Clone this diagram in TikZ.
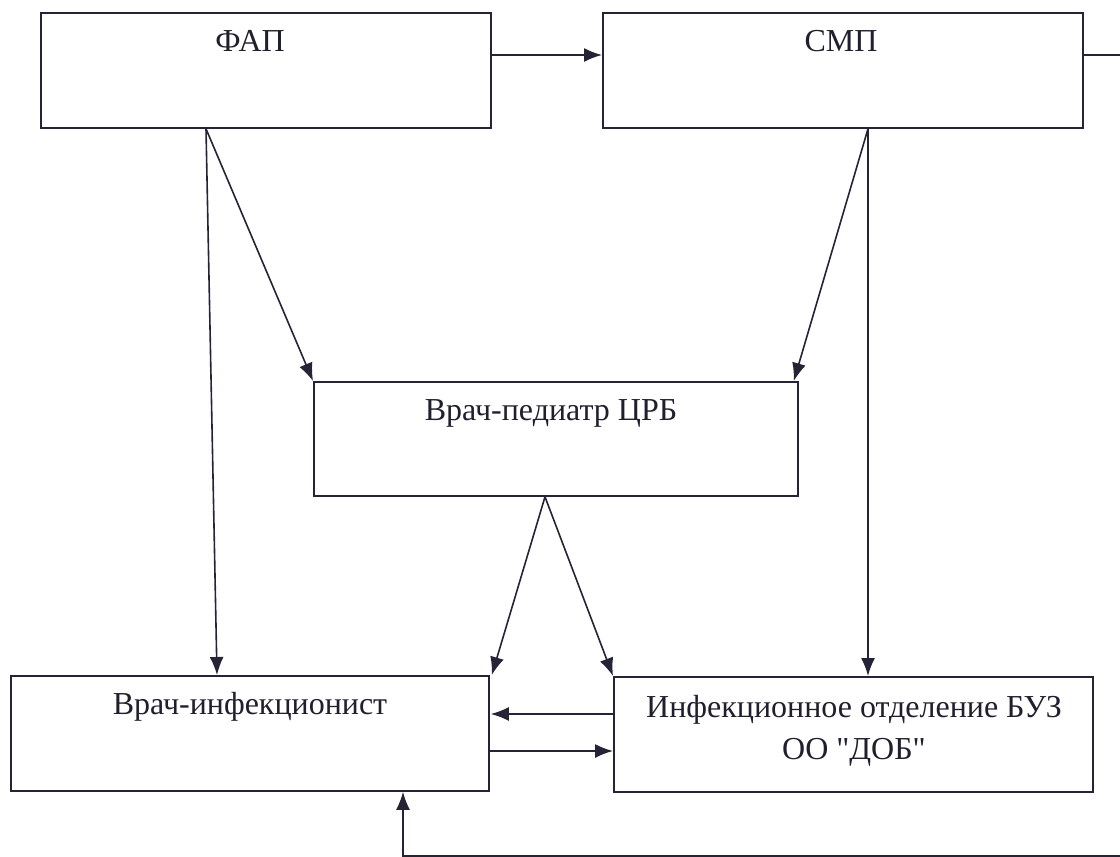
\documentclass[tikz,border=0pt]{standalone}
\usepackage{fontspec}
\setmainfont{Liberation Serif}[Ligatures=TeXOff]
\usetikzlibrary{arrows.meta,calc}
\definecolor{ink}{RGB}{36,36,54}
\begin{document}
\begin{tikzpicture}[x=1pt,y=-1pt,
  box/.style={draw=ink, line width=1.8pt, rectangle, anchor=north west, inner sep=0pt},
  lbl/.style={anchor=north, inner sep=0pt, align=center,
    font=\fontsize{32}{42}\selectfont, text=ink!85!black},
  arr/.style={draw=ink, line width=1.6pt, -{Latex[length=18pt,width=14pt]}},
  ln/.style={draw=ink, line width=1.6pt}]
\useasboundingbox (0,0) rectangle (1120,857);
% boxes
\node[box, minimum width=450pt, minimum height=115pt] (fap) at (40,12) {};
\node[box, minimum width=480pt, minimum height=115pt] (smp) at (602,12) {};
\node[box, minimum width=484pt, minimum height=114pt] (ped) at (313,381) {};
\node[box, minimum width=478pt, minimum height=115pt] (inf) at (10,675) {};
\node[box, minimum width=479pt, minimum height=115pt] (dep) at (613,676) {};
% texts
\node[lbl] (tfap) at (250,30) {ФАП};
\node[lbl] (tsmp) at (841,30) {СМП};
\node[lbl] (tped) at (551,399) {Врач-педиатр ЦРБ};
\node[lbl] (tinf) at (250,692) {Врач-инфекционист};
\node[lbl] (tdep) at (854,695) {Инфекционное отделение БУЗ\\ОО "ДОБ"};
% connectors
\draw[arr] (fap.east |- 0,55) -- (smp.west |- 0,55);
\draw[arr] ([xshift=166pt]fap.south west) -- ([xshift=207pt]inf.north west);
\draw[arr] ([xshift=166pt]fap.south west) -- (ped.north west);
\draw[arr] ([xshift=266pt]smp.south west) -- ([xshift=-5pt]ped.north east);
\draw[arr] ([xshift=266pt]smp.south west) -- ([xshift=255pt]dep.north west);
\draw[arr] ([xshift=232pt]ped.south west) -- ([xshift=2pt]inf.north east);
\draw[arr] ([xshift=232pt]ped.south west) -- (dep.north west);
\draw[arr] (dep.west |- 0,714) -- ([xshift=1pt]inf.east |- 0,714);
\draw[arr] (inf.east |- 0,751) -- (dep.west |- 0,751);
\coordinate (outR) at (1121,55);
\coordinate (outB) at (1121,856);
\draw[ln] (smp.east |- 0,55) -- (outR);
\draw[arr] (outB) -- (403,856) -- ([xshift=393pt]inf.south west);
\end{tikzpicture}
\end{document}
